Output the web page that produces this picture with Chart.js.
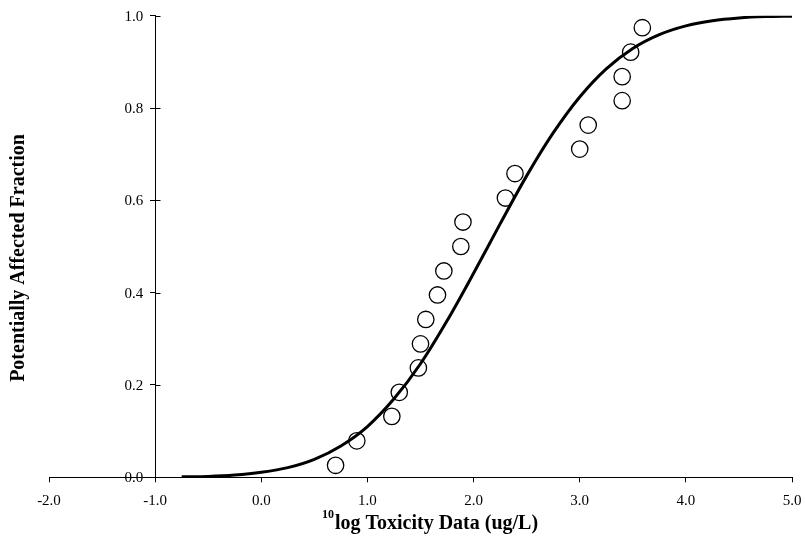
<!DOCTYPE html>
<html>
<head>
<meta charset="utf-8">
<script src="https://cdn.jsdelivr.net/npm/chart.js@4/dist/chart.umd.min.js"></script>
<style>
html,body{margin:0;padding:0;background:#fff;}
canvas{display:block;}
</style>
</head>
<body>
<canvas id="c" width="805" height="546"></canvas>
<script>
// Observed toxicity data (10log ug/L) and their plotted fractions
const obsX = [0.70, 0.90, 1.23, 1.30, 1.48, 1.50, 1.55, 1.66, 1.72, 1.88, 1.90, 2.30, 2.39, 3.00, 3.08, 3.40, 3.40, 3.48, 3.59];
const obsY = [0.026, 0.079, 0.132, 0.184, 0.237, 0.289, 0.342, 0.395, 0.447, 0.500, 0.553, 0.605, 0.658, 0.711, 0.763, 0.816, 0.868, 0.921, 0.974];

// Fitted curve
const curveX = [-0.75, -0.5, -0.25, 0.0, 0.25, 0.5, 0.75, 1.0, 1.25, 1.5, 1.75, 2.0, 2.25, 2.5, 2.75, 3.0, 3.25, 3.5, 3.75, 4.0, 4.25, 4.5, 4.75, 5.0];
const curveY = [0.001, 0.002, 0.005, 0.011, 0.021, 0.039, 0.068, 0.110, 0.170, 0.246, 0.339, 0.442, 0.549, 0.653, 0.746, 0.824, 0.885, 0.929, 0.959, 0.978, 0.989, 0.995, 0.998, 0.999];

const xTicks = [-2, -1, 0, 1, 2, 3, 4, 5];
const yTicks = [0, 0.2, 0.4, 0.6, 0.8, 1.0];

const xTitleSup = "10";
const xTitleMain = "log Toxicity Data (ug/L)";
const yTitle = "Potentially Affected Fraction";

const FONT = '"Liberation Serif", "Times New Roman", serif';

const titlesPlugin = {
  id: 'titles',
  afterDraw(chart) {
    const ctx = chart.ctx;
    const xs = chart.scales.x, ys = chart.scales.y;
    ctx.save();
    // y-axis: inner half of crossing tick marks and tick labels
    const axPix = xs.getPixelForValue(-1);
    const ax = Math.round(axPix) + 0.5;
    ctx.strokeStyle = '#000';
    ctx.lineWidth = 1;
    ctx.fillStyle = '#000';
    ctx.font = '15px ' + FONT;
    ctx.textAlign = 'right';
    ctx.textBaseline = 'middle';
    yTicks.forEach(v => {
      const py = Math.round(ys.getPixelForValue(v)) + 0.5;
      ctx.beginPath();
      ctx.moveTo(ax, py);
      ctx.lineTo(ax + 5, py);
      ctx.stroke();
      ctx.fillText(v.toFixed(1), axPix - 12, py + 0.5);
    });
    // x title with superscript
    ctx.textBaseline = 'alphabetic';
    ctx.textAlign = 'left';
    ctx.font = 'bold 12px ' + FONT;
    const wSup = ctx.measureText(xTitleSup).width;
    ctx.font = 'bold 20px ' + FONT;
    const wMain = ctx.measureText(xTitleMain).width;
    const start = 430 - (wSup + 1 + wMain) / 2;
    ctx.font = 'bold 12px ' + FONT;
    ctx.fillText(xTitleSup, start, 518);
    ctx.font = 'bold 20px ' + FONT;
    ctx.fillText(xTitleMain, start + wSup + 1, 529);
    // y title
    ctx.translate(24, 258);
    ctx.rotate(-Math.PI / 2);
    ctx.textAlign = 'center';
    ctx.font = 'bold 20px ' + FONT;
    ctx.fillText(yTitle, 0, 0);
    ctx.restore();
  }
};

new Chart(document.getElementById('c'), {
  type: 'scatter',
  data: {
    datasets: [
      {
        label: 'observed',
        data: obsX.map((x, i) => ({x: x, y: obsY[i]})),
        showLine: false,
        pointStyle: 'circle',
        pointRadius: 8.2,
        pointHoverRadius: 8.2,
        pointBorderWidth: 1.3,
        pointBorderColor: '#000',
        pointBackgroundColor: 'rgba(0,0,0,0)'
      },
      {
        label: 'fit',
        data: curveX.map((x, i) => ({x: x, y: curveY[i]})),
        showLine: true,
        borderColor: '#000',
        borderWidth: 3,
        pointRadius: 0,
        pointHoverRadius: 0,
        cubicInterpolationMode: 'monotone',
        fill: false
      }
    ]
  },
  options: {
    responsive: false,
    animation: false,
    devicePixelRatio: 1,
    layout: { padding: { left: 49, right: 13, top: 15.7, bottom: 25.7 } },
    plugins: { legend: { display: false }, tooltip: { enabled: false }, title: { display: false } },
    scales: {
      x: {
        type: 'linear',
        position: 'bottom',
        min: -2, max: 5,
        afterBuildTicks: (s) => { s.ticks = xTicks.map(v => ({value: v})); },
        afterFit: (s) => { s.paddingRight = 0; s.paddingLeft = 0; },
        ticks: {
          color: '#000',
          font: { family: FONT, size: 15 },
          padding: 10,
          maxRotation: 0,
          callback: (v) => Number(v).toFixed(1)
        },
        grid: { display: true, drawOnChartArea: false, drawTicks: true, tickLength: 5, color: '#000', lineWidth: 1 },
        border: { display: true, color: '#000', width: 1 }
      },
      y: {
        type: 'linear',
        position: { x: -1 },
        min: 0, max: 1,
        afterBuildTicks: (s) => { s.ticks = yTicks.map(v => ({value: v})); },
        ticks: { display: false },
        grid: { display: true, drawOnChartArea: false, drawTicks: true, tickLength: 5, color: '#000', lineWidth: 1 },
        border: { display: true, color: '#000', width: 1 }
      }
    }
  },
  plugins: [titlesPlugin]
});
</script>
</body>
</html>
